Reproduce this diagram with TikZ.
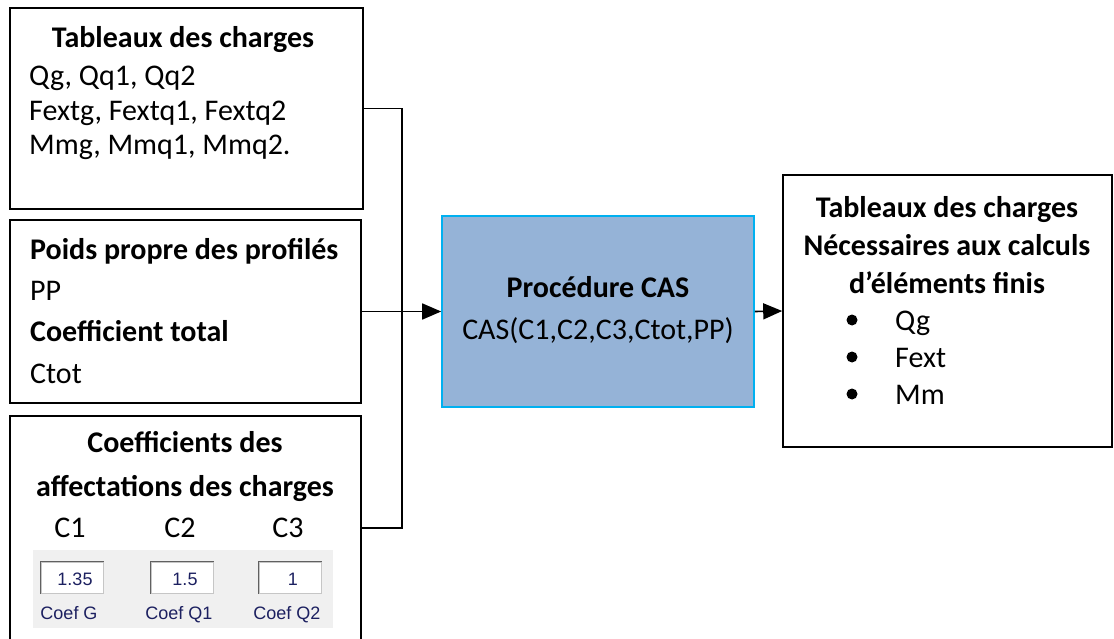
\documentclass[tikz,border=0pt]{standalone}
\usepackage{fontspec}
\setmainfont{Carlito}
\newfontfamily\winfont{Liberation Sans}
\usetikzlibrary{arrows.meta,positioning}
\definecolor{casfill}{HTML}{95B3D7}
\definecolor{casline}{HTML}{00B0F0}
\definecolor{panelgray}{HTML}{F0F0F0}
\definecolor{wintext}{HTML}{1C2060}
\tikzset{
  box/.style={draw,line width=1.6pt,inner sep=0pt},
  txt/.style={inner sep=0pt,anchor=base west,font=\fontsize{30}{35}\selectfont},
  ttl/.style={inner sep=0pt,anchor=base,font=\fontsize{30}{35}\selectfont\bfseries},
}

\begin{document}
\begin{tikzpicture}[x=1pt,y=-1pt,>={Triangle[length=19pt,width=16pt]},
   wire/.style={line width=1.6pt},
   field/.style={draw=gray!45,fill=white,line width=1pt,minimum width=62pt,minimum height=31pt,inner sep=0pt},
   wtxt/.style={inner sep=0pt,anchor=base,text=wintext,font=\winfont\fontsize{18}{21}\selectfont}]
  \useasboundingbox (0,0) rectangle (1114,639);
  % boites
  \node[box,minimum width=353pt,minimum height=201pt] (tab) at (186.5,108.5) {};
  \node[box,minimum width=351pt,minimum height=183pt] (poids) at (185.5,311.5) {};
  \node[box,minimum width=351pt,minimum height=228pt] (coef) at (185.5,530) {};
  \node[box,draw=casline,fill=casfill,minimum width=312pt,minimum height=191pt] (cas) at (598,311.5) {};
  \node[box,minimum width=329pt,minimum height=272pt] (res) at (947.5,311) {};
  % tableaux des charges
  \node[ttl] (tabT) at (183,48) {Tableaux des charges};
  \foreach \y/\s/\n in {86/{Qg, Qq1, Qq2}/a,121/{Fextg, Fextq1, Fextq2}/b,155/{Mmg, Mmq1, Mmq2.}/c}
    \node[txt] (tab\n) at (29,\y) {\s};
  % poids propre
  \node[txt,font=\fontsize{30}{35}\selectfont\bfseries] (ppT) at (30,260) {Poids propre des profilés};
  \node[txt] (pp) at (30,300) {PP};
  \node[txt,font=\fontsize{30}{35}\selectfont\bfseries] (ctotT) at (30,341) {Coefficient total};
  \node[txt] (ctot) at (30,383) {Ctot};
  % coefficients
  \node[ttl] (coefT) at (185,452) {Coefficients des};
  \node[ttl] (coefU) at (185,496) {affectations des charges};
  \node[fill=panelgray,minimum width=300pt,minimum height=78pt,inner sep=0pt] (panel) at (183,589) {};
  \foreach \i/\x/\v/\l in {1/70/1.35/Coef G,2/180/1.5/Coef Q1,3/288/1/Coef Q2}{
    \node[txt,anchor=base] (c\i) at (\x,537) {C\i};
    \node[field] (f\i) at (\x+2,577.5) {};
    \draw[gray!75!black,line width=1.5pt] (f\i.south west) -- (f\i.north west) -- (f\i.north east);
    \node[wtxt] (v\i) at (\x+5,585) {\v};
    \node[wtxt] (l\i) at (\x-1,619) {\l};
  }
  % procedure
  \node[ttl] (casT) at (598,298) {Procédure CAS};
  \node[txt,anchor=base] (casF) at (598,339) {CAS(C1,C2,C3,Ctot,PP)};
  % resultats
  \node[ttl] (resA) at (947,218) {Tableaux des charges};
  \node[ttl] (resB) at (947,255) {Nécessaires aux calculs};
  \node[ttl] (resC) at (947,293) {d’éléments finis};
  \foreach \y/\s/\n in {330/Qg/a,367/Fext/b,404/Mm/c}{
    \fill (852,\y-10) circle (5.5);
    \node[txt] (res\n) at (895,\y) {\s};
  }
  % liaisons
  \coordinate (bus) at (402,311.5);
  \draw[wire] (tab.east) -| (bus) |- (coef.east |- 0,528);
  \draw[wire,->] (poids.east) -- (cas.west);
  \draw[wire,->] (cas.east) -- (res.west);
\end{tikzpicture}
\end{document}
